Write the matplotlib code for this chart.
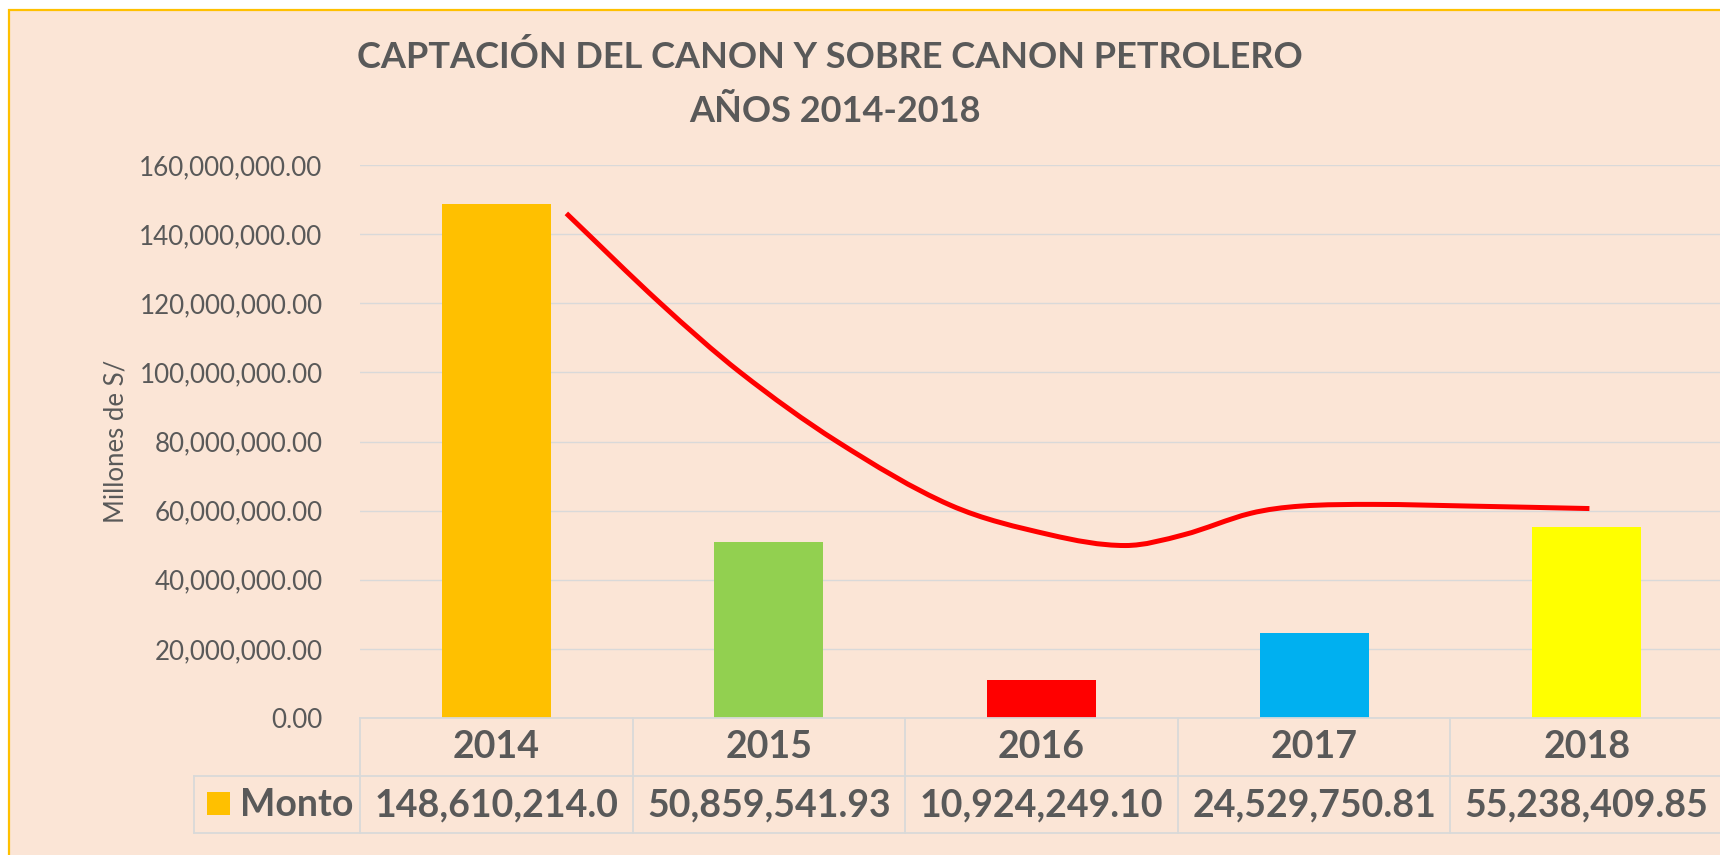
import matplotlib
matplotlib.use("Agg")
import matplotlib.pyplot as plt
import numpy as np
from matplotlib.lines import Line2D
from matplotlib.patches import PathPatch, Rectangle
from matplotlib.path import Path
from matplotlib.transforms import blended_transform_factory

plt.rcParams["font.family"] = ["Lato", "DejaVu Sans"]

# --- data -----------------------------------------------------------------
years = ["2014", "2015", "2016", "2017", "2018"]
montos = [148610214.0, 50859541.93, 10924249.10, 24529750.81, 55238409.85]
monto_labels = ["148,610,214.0", "50,859,541.93", "10,924,249.10",
                "24,529,750.81", "55,238,409.85"]
bar_colors = ["#FFC000", "#92D050", "#FF0000", "#00B0F0", "#FFFF00"]
y_ticks = [0, 20e6, 40e6, 60e6, 80e6, 100e6, 120e6, 140e6, 160e6]

# smoothed red line (x in category units)
curve_x = [0.257, 0.602, 0.895, 1.25, 1.665, 2.032, 2.307, 2.521, 2.766,
           2.949, 3.22, 3.58, 4.01]
curve_y = [146.0e6, 120.0e6, 100.0e6, 80.0e6, 61.6e6, 53.0e6, 49.9e6,
           53.0e6, 59.2e6, 61.3e6, 61.8e6, 61.3e6, 60.6e6]

TEXT = "#595959"
GRID = "#D9D9D9"
W, H = 1720, 855


def fx(x):
    return x / W


def fy(y):
    return 1 - y / H


def smooth_path(xs, ys):
    # cubic Hermite through the points, written as Bezier segments
    xs = np.asarray(xs, float)
    ys = np.asarray(ys, float)
    n = len(xs)
    m = np.empty(n)
    m[0] = (ys[1] - ys[0]) / (xs[1] - xs[0])
    m[-1] = (ys[-1] - ys[-2]) / (xs[-1] - xs[-2])
    m[1:-1] = (ys[2:] - ys[:-2]) / (xs[2:] - xs[:-2])
    verts = [(xs[0], ys[0])]
    codes = [Path.MOVETO]
    for i in range(n - 1):
        d = (xs[i + 1] - xs[i]) / 3
        verts += [(xs[i] + d, ys[i] + m[i] * d),
                  (xs[i + 1] - d, ys[i + 1] - m[i + 1] * d),
                  (xs[i + 1], ys[i + 1])]
        codes += [Path.CURVE4] * 3
    return Path(verts, codes)


fig = plt.figure(figsize=(W / 100, H / 100), dpi=100, facecolor="white")

# chart area background with the orange border (cut off right / bottom)
bg = Rectangle((fx(9), -0.05), 1.2, fy(10) + 0.05, transform=fig.transFigure,
               facecolor="#FBE5D6", edgecolor="#FFC000", linewidth=1.6, zorder=-5)
fig.add_artist(bg)

ax = fig.add_axes([fx(360), fy(718), (1723 - 360) / W, (718 - 165) / H])
ax.set_facecolor("none")
ax.set_xlim(-0.5, 4.5)
ax.set_ylim(0, 160e6)
for s in ax.spines.values():
    s.set_visible(False)
ax.set_axisbelow(True)
ax.yaxis.grid(True, color=GRID, linewidth=1.0)
ax.set_xticks([])
ax.set_yticks(y_ticks)
ax.set_yticklabels([f"{v:,.2f}" for v in y_ticks])
ax.tick_params(axis="y", length=0, pad=27, labelsize=18.7, labelcolor=TEXT)

x = np.arange(len(years))
ax.bar(x, montos, width=0.4, color=bar_colors, zorder=2)

ax.add_patch(PathPatch(smooth_path(curve_x, curve_y), fill=False, edgecolor="#FF0000",
                       linewidth=3.6, capstyle="butt", zorder=3, clip_on=False))

# --- data table under the plot ---------------------------------------------
trans = blended_transform_factory(ax.transData, fig.transFigure)
line_kw = dict(color=GRID, linewidth=1.3, zorder=1)
fig.add_artist(Line2D([fx(360), 1.01], [fy(718)] * 2, transform=fig.transFigure, **line_kw))
fig.add_artist(Line2D([fx(194), 1.01], [fy(776)] * 2, transform=fig.transFigure, **line_kw))
fig.add_artist(Line2D([fx(194), 1.01], [fy(833)] * 2, transform=fig.transFigure, **line_kw))
fig.add_artist(Line2D([fx(194)] * 2, [fy(776), fy(833)], transform=fig.transFigure, **line_kw))
for b in np.arange(len(years) + 1) - 0.5:
    fig.add_artist(Line2D([b, b], [fy(718), fy(833)], transform=trans, **line_kw))

for i, (yr, lab) in enumerate(zip(years, monto_labels)):
    fig.text(i, fy(747), yr, transform=trans, ha="center", va="center",
             fontsize=27, fontweight="bold", color=TEXT)
    fig.text(i, fy(805), lab, transform=trans, ha="center", va="center",
             fontsize=27, fontweight="bold", color=TEXT)

fig.add_artist(Rectangle((fx(207), fy(815)), fx(23), 23 / H, transform=fig.transFigure,
                         facecolor=bar_colors[0], edgecolor="none"))
fig.text(fx(240), fy(805), "Monto", ha="left", va="center",
         fontsize=27, fontweight="bold", color=TEXT)

# --- titles -----------------------------------------------------------------
fig.text(fx(830), fy(57), "CAPTACIÓN DEL CANON Y SOBRE CANON PETROLERO",
         ha="center", va="center", fontsize=26, fontweight="bold", color=TEXT)
fig.text(fx(835), fy(112), "AÑOS 2014-2018",
         ha="center", va="center", fontsize=26, fontweight="bold", color=TEXT)
fig.text(fx(116), fy(441), "Millones de S/", rotation=90, ha="center", va="center",
         fontsize=18.5, color=TEXT)

fig.savefig("out.png", dpi=100, facecolor="white")
